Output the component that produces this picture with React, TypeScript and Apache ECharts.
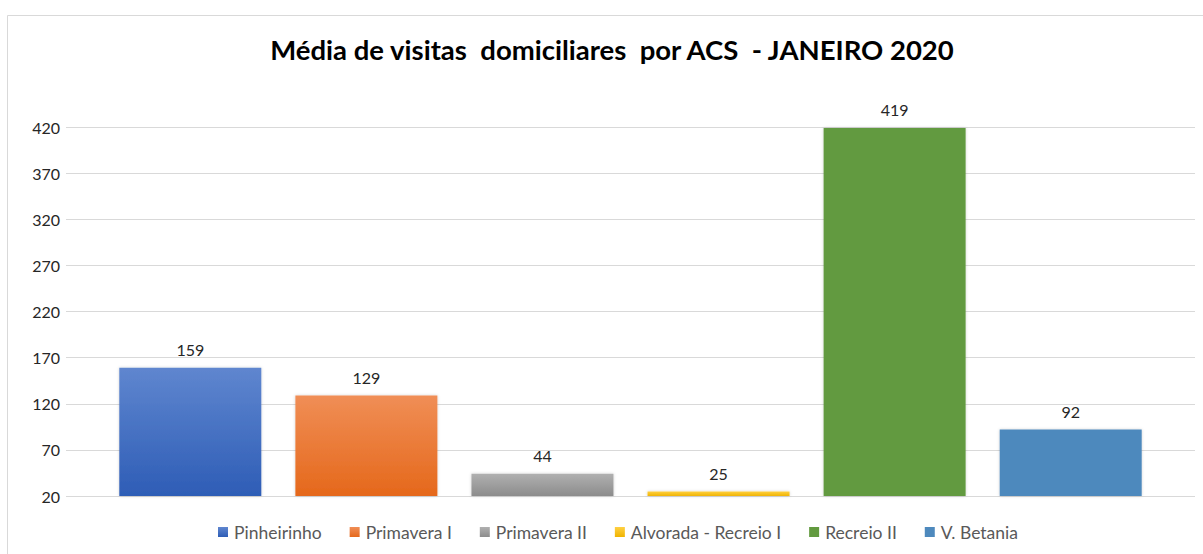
import React, { useEffect, useRef } from "react";
import * as echarts from "echarts";

const title = "Média de visitas  domiciliares  por ACS  - JANEIRO 2020";
const units = ["Pinheirinho", "Primavera I", "Primavera II", "Alvorada - Recreio I", "Recreio II", "V. Betania"];
const values = [159, 129, 44, 25, 419, 92];
const topColors = ["#5f86cf", "#f08e56", "#b0b0b0", "#ffd043", "#629a3f", "#4e89bd"];
const bottomColors = ["#2e5db6", "#e5681b", "#8c8c8c", "#f0b400", "#629a3f", "#4e89bd"];
const yMin = 20;
const yMax = 420;
const yStep = 50;

const FONT = "Lato, 'Open Sans', sans-serif";

export default function App() {
  const ref = useRef<HTMLDivElement>(null);
  useEffect(() => {
    if (!ref.current) return;
    const chart = echarts.init(ref.current, null, { renderer: "svg" });
    const series = units.map((name, i) => ({
      name,
      type: "bar",
      data: [values[i]],
      barWidth: 142,
      barGap: "24%",
      itemStyle: {
        color: new echarts.graphic.LinearGradient(0, 0, 0, 1, [
          { offset: 0, color: topColors[i] },
          { offset: 1, color: bottomColors[i] },
        ]),
        shadowBlur: 3,
        shadowColor: "rgba(0,0,0,0.18)",
      },
      label: {
        show: true,
        position: "top",
        distance: 10,
        color: "#262626",
        fontSize: 16,
        fontFamily: FONT,
      },
    }));
    chart.setOption({
      animation: false,
      backgroundColor: "#ffffff",
      title: {
        text: title,
        left: 607,
        textAlign: "center",
        top: 30,
        textStyle: { fontFamily: FONT, fontWeight: "bold", fontSize: 27.5, color: "#000000" },
      },
      graphic: [
        {
          type: "rect",
          shape: { x: 7.5, y: 15.5, width: 1300, height: 700 },
          style: { fill: "none", stroke: "#d9d9d9", lineWidth: 1 },
          silent: true,
          z: 0,
        },
      ],
      legend: {
        data: units,
        bottom: 8,
        left: 213,
        itemWidth: 10,
        itemHeight: 10,
        itemGap: 28,
        icon: "rect",
        textStyle: { fontFamily: FONT, fontSize: 17.5, color: "#595959", padding: [0, 0, 0, 1] },
      },
      grid: { left: 66, right: 8, top: 127, bottom: 58, containLabel: false },
      xAxis: {
        type: "category",
        data: ["Janeiro 2020"],
        axisLine: { show: false },
        axisTick: { show: false },
        axisLabel: { show: false },
      },
      yAxis: {
        type: "value",
        min: yMin,
        max: yMax,
        interval: yStep,
        axisLine: { show: false },
        axisTick: { show: false },
        axisLabel: { fontFamily: FONT, fontSize: 16, color: "#262626", margin: 6 },
        splitLine: { lineStyle: { color: "#d9d9d9", width: 1 } },
      },
      series,
    });
    return () => chart.dispose();
  }, []);
  return (
    <div
      ref={ref}
      style={{ position: "fixed", left: 0, top: 0, width: 1203, height: 554, background: "#fff" }}
    />
  );
}
